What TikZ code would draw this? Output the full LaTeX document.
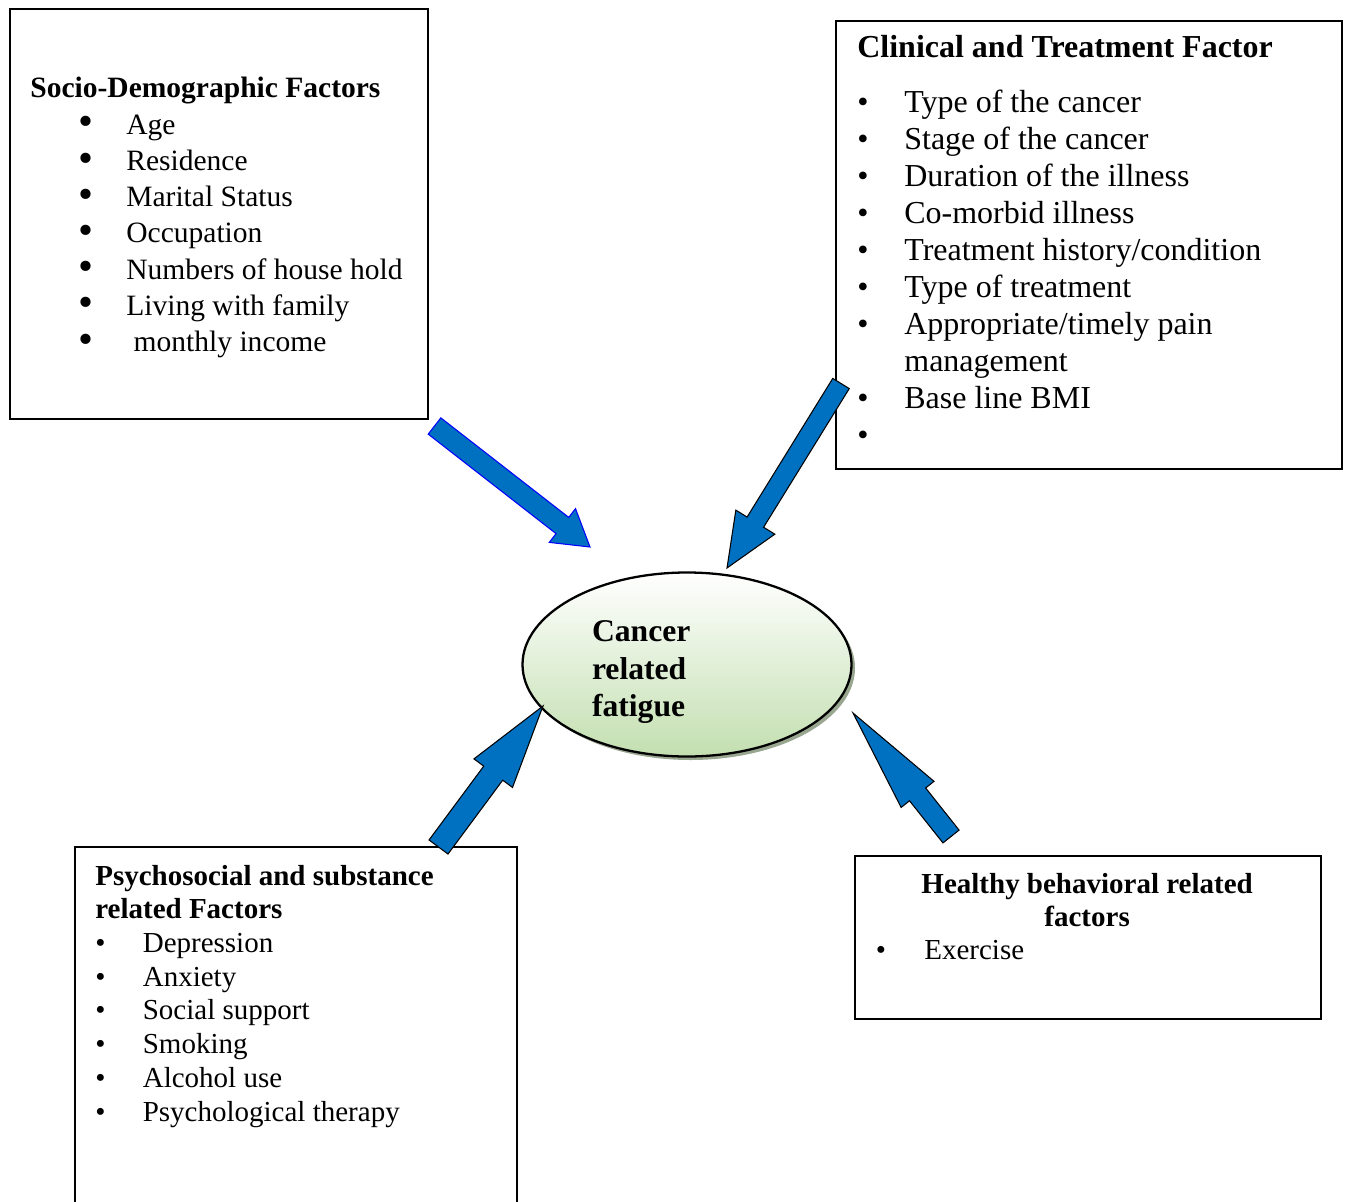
\documentclass[tikz,border=0pt]{standalone}
\usepackage{fontspec}
\setmainfont{Liberation Serif}
\usetikzlibrary{shapes.geometric,calc,shadows}
\definecolor{ArrowBlue}{HTML}{0070C0}
\definecolor{EdgeBlue}{HTML}{0000FF}
\definecolor{FatigueGreen}{HTML}{C3DFB0}
\definecolor{ShadowOlive}{HTML}{8F9D84}
\newcommand{\bigbul}{\raisebox{-1pt}{\scalebox{1.45}{\textbullet}}}
% block arrow: [style]{tail}{tip}{half shaft}{half head}{head length}
\newcommand{\blockarrow}[6][block arrow]{%
    \coordinate (ba-neck) at ($(#3)!#6!(#2)$);
    \draw[#1] ($(#2)!#4!90:(#3)$) -- ($(ba-neck)!#4!90:(#3)$)
        -- ($(ba-neck)!#5!90:(#3)$) -- (#3)
        -- ($(ba-neck)!#5!-90:(#3)$) -- ($(ba-neck)!#4!-90:(#3)$)
        -- ($(#2)!#4!-90:(#3)$) -- cycle;
}
\tikzset{
    % Framed factor boxes
    factor box/.style={
        rectangle,
        draw=black,
        line width=1.1pt,
        inner sep=0pt,
        anchor=north west
    },
    factor text/.style={
        inner sep=0pt,
        anchor=base west,
        font=\fontsize{16.8}{20.6}\selectfont
    },
    outcome/.style={
        ellipse,
        draw=black,
        line width=1.3pt,
        top color=white,
        bottom color=FatigueGreen,
        drop shadow={shadow xshift=0.07cm, shadow yshift=-0.07cm, fill=ShadowOlive, opacity=0.9},
        minimum width=6.58cm,
        minimum height=3.68cm,
        inner sep=0pt,
        text width=3.8cm,
        align=left,
        font=\fontsize{18}{21.2}\selectfont\bfseries
    },
    block arrow/.style={
        fill=ArrowBlue,
        draw=black,
        line width=0.6pt,
        line join=miter
    },
    block arrow blue/.style={
        block arrow,
        draw=EdgeBlue
    }
}
\begin{document}
\begin{tikzpicture}
    \useasboundingbox (0,0) rectangle (27,-24.02);
    \clip (0,0) rectangle (27,-24.02);

    % Boxes
    \node[factor box, minimum width=8.36cm, minimum height=8.2cm] (socio) at (0.18,-0.16) {};
    \node[factor box, minimum width=10.12cm, minimum height=8.96cm] (clinical) at (16.7,-0.4) {};
    \node[factor box, minimum width=8.84cm, minimum height=8cm] (psycho) at (1.48,-16.92) {};
    \node[factor box, minimum width=9.32cm, minimum height=3.26cm] (healthy) at (17.08,-17.1) {};

    % Box contents
    \node[factor text] (sociotext) at (0.6,-1.96) {%
        \begin{tabular}[t]{@{}p{0.97cm}@{}p{0.95cm}@{}l@{}}
            \multicolumn{3}{@{}l@{}}{\textbf{Socio-Demographic Factors}}\\
            & \bigbul & Age\\
            & \bigbul & Residence\\
            & \bigbul & Marital Status\\
            & \bigbul & Occupation\\
            & \bigbul & Numbers of house hold\\
            & \bigbul & Living with family\\
            & \bigbul & \ monthly income\\
        \end{tabular}};
    \node[factor text, font=\fontsize{18.2}{21.1}\selectfont] (clinicaltext) at (17.14,-1.16) {%
        \begin{tabular}[t]{@{}p{0.94cm}@{}l@{}}
            \multicolumn{2}{@{}l@{}}{\textbf{Clinical and Treatment Factor}}\\[0.34cm]
            \textbullet & Type of the cancer\\
            \textbullet & Stage of the cancer\\
            \textbullet & Duration of the illness\\
            \textbullet & Co-morbid illness\\
            \textbullet & Treatment history/condition\\
            \textbullet & Type of treatment\\
            \textbullet & Appropriate/timely pain\\
            & management\\
            \textbullet & Base line BMI\\
            \textbullet & \\
        \end{tabular}};
    \node[factor text, font=\fontsize{16.5}{19.2}\selectfont] (psychotext) at (1.9,-17.7) {%
        \begin{tabular}[t]{@{}p{0.95cm}@{}l@{}}
            \multicolumn{2}{@{}l@{}}{\textbf{Psychosocial and substance}}\\
            \multicolumn{2}{@{}l@{}}{\textbf{related Factors}}\\
            \textbullet & Depression\\
            \textbullet & Anxiety\\
            \textbullet & Social support\\
            \textbullet & Smoking\\
            \textbullet & Alcohol use\\
            \textbullet & Psychological therapy\\
        \end{tabular}};
    \node[factor text, font=\fontsize{16.5}{19}\selectfont] (healthytext) at (17.51,-17.86) {%
        \begin{tabular}[t]{@{}p{0.97cm}@{}p{7.48cm}@{}}
            \multicolumn{2}{@{}c@{}}{\textbf{Healthy behavioral related}}\\
            \multicolumn{2}{@{}c@{}}{\textbf{factors}}\\
            \textbullet & Exercise\\
        \end{tabular}};

    % Outcome
    \node[outcome] (fatigue) at (13.74,-13.29) {\rule{0pt}{0.72cm}Cancer\\related\\fatigue};

    % Arrow ends
    \coordinate (t-socio) at (8.69,-8.52);
    \coordinate (p-socio) at (11.8,-10.94);
    \coordinate (t-clinical) at (16.82,-7.67);
    \coordinate (p-clinical) at (14.54,-11.36);
    \coordinate (t-psycho) at (8.77,-16.94);
    \coordinate (p-psycho) at (10.86,-14.12);
    \coordinate (t-healthy) at (19.02,-16.73);
    \coordinate (p-healthy) at (17.06,-14.26);

    % Arrows
    \blockarrow[block arrow blue]{t-socio}{p-socio}{0.206cm}{0.428cm}{0.7cm}
    \blockarrow{t-clinical}{p-clinical}{0.194cm}{0.458cm}{1.078cm}
    \blockarrow{t-psycho}{p-psycho}{0.236cm}{0.48cm}{1.672cm}
    \blockarrow{t-healthy}{p-healthy}{0.206cm}{0.42cm}{2.078cm}
\end{tikzpicture}
\end{document}
